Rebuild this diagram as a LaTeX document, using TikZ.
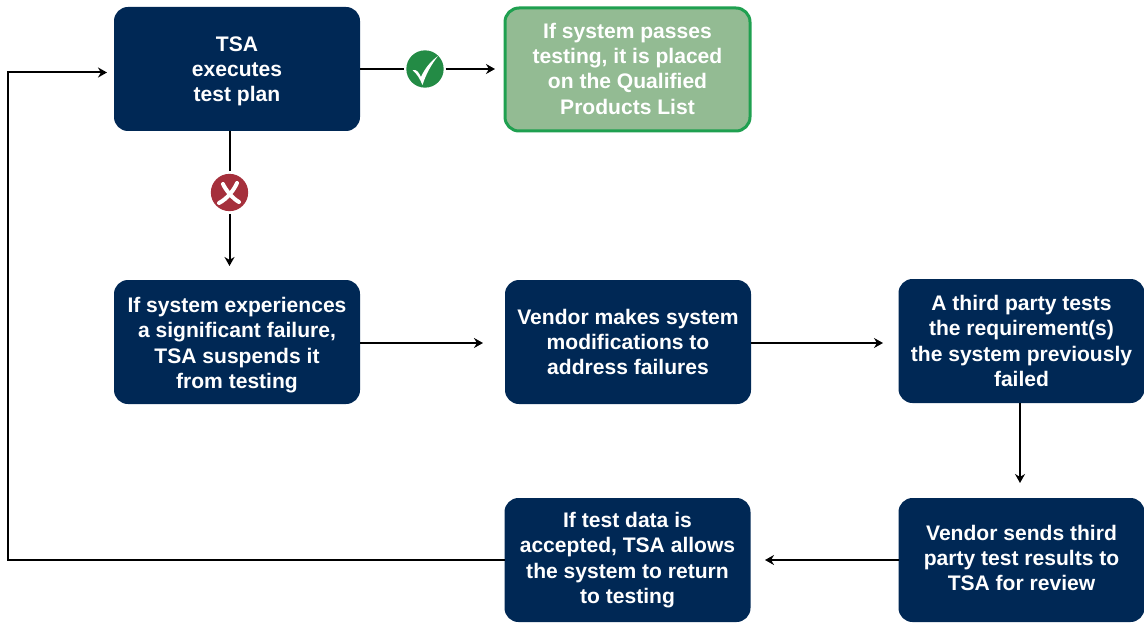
\documentclass[tikz,border=0pt]{standalone}
\usepackage{fontspec}
\setmainfont{Liberation Sans}
\usetikzlibrary{arrows.meta,positioning}
\definecolor{navybox}{HTML}{002855}
\definecolor{greenfill}{HTML}{93BB93}
\definecolor{greenline}{HTML}{1FA050}
\definecolor{passgreen}{HTML}{238B45}
\definecolor{failred}{HTML}{A5303C}

\begin{document}
\begin{tikzpicture}
  [x=.75pt,y=-.75pt,>={Stealth[length=6.75pt,width=7.5pt]},line width=1.5pt,node distance=108.75pt,
  main node/.style={rectangle,rounded corners=10.5pt,fill=navybox,text=white,minimum width=184.5pt,minimum height=93pt,
    inner sep=0pt,outer sep=0pt,align=center,font=\fontsize{15.8pt}{19pt}\selectfont\bfseries},
  pass node/.style={main node,fill=greenfill,draw=greenline,line width=2.25pt,minimum width=183.75pt,minimum height=92.25pt},
  mark node/.style={circle,minimum size=28pt,inner sep=0pt,outer sep=0pt}]
  \useasboundingbox (0,0) rectangle (1144,624);

  \node[main node] (tsa) at (237,69) {\rule{0pt}{14.4pt}TSA\\executes\\test plan};
  \node[pass node] (pass) at (627.5,69.5) {If system passes\\testing, it is placed\\on the Qualified\\Products List\rule[-1.5pt]{0pt}{1pt}};
  \node[main node] (fail) at (237,342) {\rule{0pt}{16pt}If system experiences\\a significant failure,\\TSA suspends it\\from testing};
  \node[main node] (fix) [right=of fail] {Vendor makes system\\modifications to\\address failures};
  \node[main node] (third) at (1021.5,341) {A third party tests\\the requirement(s)\\the system previously\\failed};
  \node[main node] (send) at (1021.5,560) {Vendor sends third\\party test results to\\TSA for review\rule[-3pt]{0pt}{1pt}};
  \node[main node] (back) [left=111pt of send] {If test data is\\accepted, TSA allows\\the system to return\\to testing};

  \node[mark node,fill=passgreen] (ok) at (425,69) {};
  \node[mark node,fill=failred] (no) at (229.5,192.5) {};
  % the two marks
  \fill[white] (412.5,70) .. controls (417,69) and (419,73) .. (421,77) .. controls (425,68) and (431,61) .. (438,56)
    .. controls (431,65) and (426,74) .. (422.5,85) .. controls (420,79) and (417,74) .. (412.5,70) -- cycle;
  \draw[white,line width=3pt,line cap=round] (223,184) .. controls (225,189) and (233,199) .. (239,202)
    (237,183) .. controls (234,190) and (227,199) .. (219,203);

  \coordinate (okend) at (495,69);
  \coordinate (noend) at (229.5,266);
  \coordinate (failend) at (483,343);
  \coordinate (fixend) at (883,343);
  \coordinate (thirdstart) at (1020,403);
  \coordinate (thirdend) at (1020,483);
  \coordinate (sendend) at (765,560);
  \coordinate (loopa) at (8,560);
  \coordinate (loopb) at (8,72.5);
  \coordinate (loopend) at (107,72.5);
  \coordinate (tsastart) at (229.5,131);

  \draw[shorten >=2pt] (tsa.east |- ok) -- (ok.west);
  \draw[->,shorten <=1.5pt] (ok.east) -- (okend);
  \draw[shorten >=2pt] (tsastart) -- (no.north);
  \draw[->,shorten <=2pt] (no.south) -- (noend);
  \draw[->] (fail.east |- failend) -- (failend);
  \draw[->] (fix.east |- fixend) -- (fixend);
  \draw[->] (thirdstart) -- (thirdend);
  \draw[->] (send.west) -- (sendend);
  \draw[->] (back.west) -- (loopa) -- (loopb) -- (loopend);
\end{tikzpicture}
\end{document}
